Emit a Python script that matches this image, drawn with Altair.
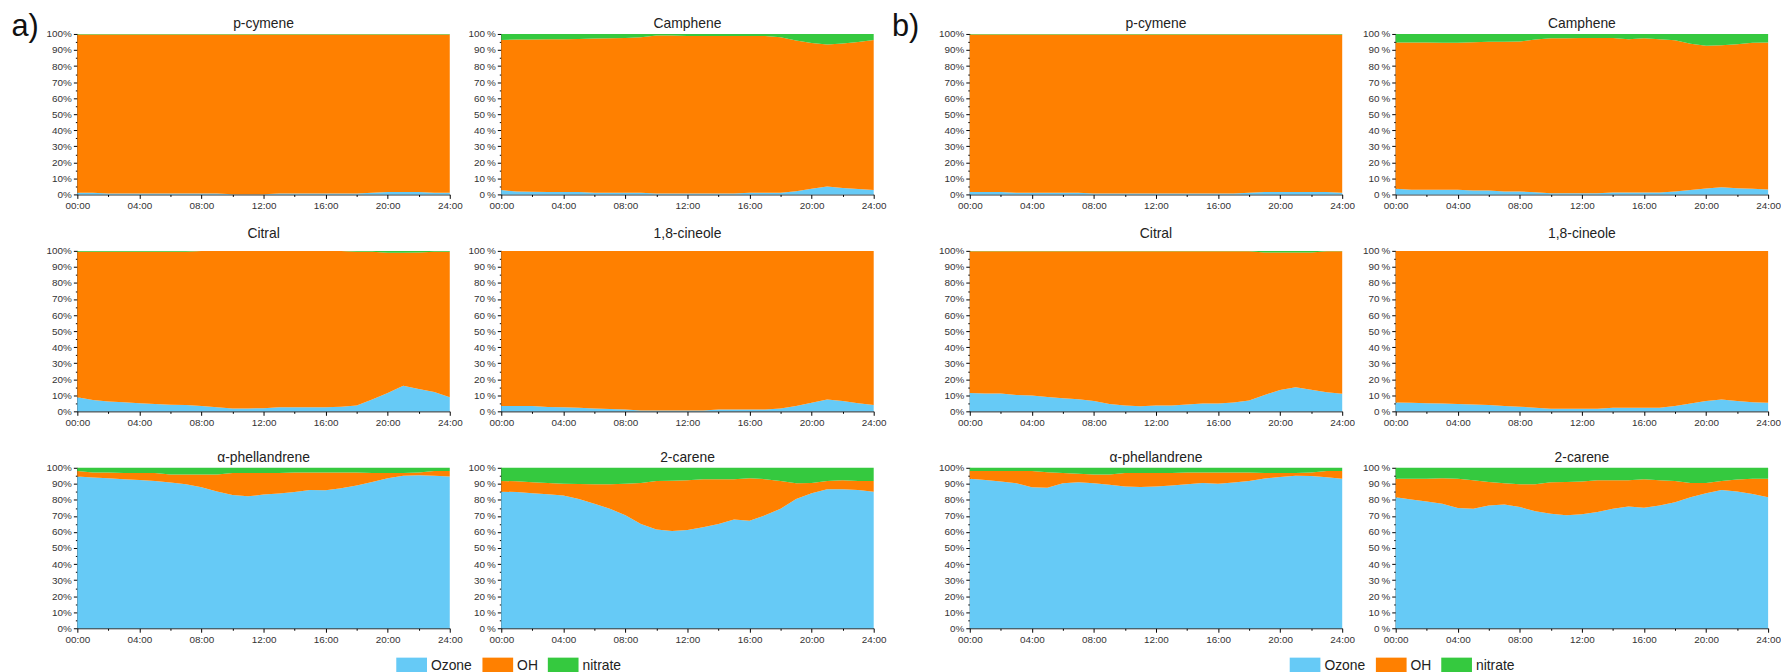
import altair as alt
import pandas as pd

HOURS = list(range(25))
SPECIES = ["Ozone", "OH", "nitrate"]
COLORS = ["#66CAF6", "#FF8000", "#35C93F"]
COMPOUNDS = ["p-cymene", "Camphene", "Citral", "1,8-cineole", "α-phellandrene", "2-carene"]

# ---------------- a) ----------------
a_pcymene_ozone = [1.0, 1.0, 0.5, 0.5, 0.5, 0.5, 0.5, 0.5, 0.5, 0.5, 0.1, 0.1, 0.1, 0.5, 0.5, 0.5, 0.5, 0.5, 0.5, 1.0, 1.5, 1.5, 1.5, 1.0, 1.0]
a_pcymene_oh = [98.7, 98.7, 99.2, 99.2, 99.2, 99.2, 99.2, 99.2, 99.2, 99.2, 99.6, 99.6, 99.6, 99.2, 99.2, 99.2, 99.2, 99.2, 99.2, 98.7, 98.2, 98.2, 98.2, 98.7, 98.7]
a_pcymene_nitrate = [0.3, 0.3, 0.3, 0.3, 0.3, 0.3, 0.3, 0.3, 0.3, 0.3, 0.3, 0.3, 0.3, 0.3, 0.3, 0.3, 0.3, 0.3, 0.3, 0.3, 0.3, 0.3, 0.3, 0.3, 0.3]

a_camphene_ozone = [2.7, 1.8, 1.6, 1.5, 1.5, 1.5, 1.0, 1.0, 1.0, 1.0, 0.6, 0.6, 0.6, 0.6, 0.6, 0.6, 1.0, 1.0, 1.0, 2.0, 3.5, 5.0, 4.0, 3.3, 2.7]
a_camphene_oh = [93.6, 94.7, 95.0, 95.2, 95.2, 95.3, 96.2, 96.3, 96.5, 97.0, 98.4, 98.4, 98.2, 98.2, 98.2, 98.2, 97.8, 97.8, 97.0, 94.0, 90.8, 88.4, 90.0, 91.7, 93.6]
a_camphene_nitrate = [3.7, 3.5, 3.4, 3.3, 3.3, 3.2, 2.8, 2.7, 2.5, 2.0, 1.0, 1.0, 1.2, 1.2, 1.2, 1.2, 1.2, 1.2, 2.0, 4.0, 5.7, 6.6, 6.0, 5.0, 3.7]

a_citral_ozone = [8.8, 7.0, 6.1, 5.7, 5.1, 4.5, 4.1, 3.9, 3.3, 2.5, 1.8, 1.8, 2.0, 2.5, 2.5, 2.5, 2.5, 2.9, 3.7, 7.4, 11.5, 16.0, 14.0, 12.0, 8.8]
a_citral_oh = [90.7, 92.5, 93.4, 93.8, 94.4, 95.0, 95.4, 95.6, 96.6, 97.4, 98.1, 98.1, 97.9, 97.4, 97.4, 97.4, 97.4, 97.0, 95.8, 92.1, 87.3, 82.8, 85.0, 87.5, 90.7]
a_citral_nitrate = [0.5, 0.5, 0.5, 0.5, 0.5, 0.5, 0.5, 0.5, 0.1, 0.1, 0.1, 0.1, 0.1, 0.1, 0.1, 0.1, 0.1, 0.1, 0.5, 0.5, 1.2, 1.2, 1.0, 0.5, 0.5]

a_cineole_ozone = [3.3, 3.3, 3.3, 2.7, 2.5, 2.3, 1.8, 1.5, 1.2, 0.6, 0.6, 0.6, 0.6, 0.6, 1.2, 1.2, 1.2, 1.2, 1.8, 3.3, 5.3, 7.4, 6.4, 5.1, 3.9]
a_cineole_oh = [96.6, 96.6, 96.6, 97.2, 97.4, 97.6, 98.1, 98.4, 98.7, 99.3, 99.3, 99.3, 99.3, 99.3, 98.7, 98.7, 98.7, 98.7, 98.1, 96.6, 94.6, 92.5, 93.5, 94.8, 96.0]
a_cineole_nitrate = [0.1, 0.1, 0.1, 0.1, 0.1, 0.1, 0.1, 0.1, 0.1, 0.1, 0.1, 0.1, 0.1, 0.1, 0.1, 0.1, 0.1, 0.1, 0.1, 0.1, 0.1, 0.1, 0.1, 0.1, 0.1]

a_phell_ozone = [94.5, 93.9, 93.5, 92.9, 92.4, 91.8, 90.8, 89.8, 87.8, 85.3, 83.1, 82.2, 83.3, 84.0, 84.9, 86.1, 86.0, 87.3, 89.0, 91.2, 93.5, 95.1, 95.3, 95.1, 94.5]
a_phell_oh = [3.5, 3.2, 3.5, 3.8, 4.3, 4.9, 5.1, 6.1, 8.1, 10.6, 13.6, 14.5, 13.4, 12.7, 12.2, 11.0, 11.1, 9.8, 8.1, 5.5, 3.2, 1.6, 1.8, 2.9, 3.5]
a_phell_nitrate = [2.0, 2.9, 3.0, 3.3, 3.3, 3.3, 4.1, 4.1, 4.1, 4.1, 3.3, 3.3, 3.3, 3.3, 2.9, 2.9, 2.9, 2.9, 2.9, 3.3, 3.3, 3.3, 2.9, 2.0, 2.0]

a_carene_ozone = [85.1, 84.9, 84.1, 83.5, 82.7, 80.6, 77.6, 74.5, 70.4, 64.9, 61.6, 60.6, 61.2, 62.9, 64.9, 67.8, 67.0, 70.4, 74.5, 80.6, 84.1, 86.7, 86.7, 86.1, 85.1]
a_carene_oh = [6.7, 6.7, 6.9, 7.0, 7.3, 9.3, 12.2, 15.3, 19.6, 25.7, 30.2, 31.4, 31.0, 30.0, 28.0, 25.1, 26.5, 22.5, 17.3, 9.8, 6.5, 5.1, 5.5, 5.7, 6.7]
a_carene_nitrate = [8.2, 8.4, 9.0, 9.5, 10.0, 10.1, 10.2, 10.2, 10.0, 9.4, 8.2, 8.0, 7.8, 7.1, 7.1, 7.1, 6.5, 7.1, 8.2, 9.6, 9.4, 8.2, 7.8, 8.2, 8.2]

# ---------------- b) ----------------
b_pcymene_ozone = [1.5, 1.5, 1.5, 1.0, 1.0, 1.0, 1.0, 1.0, 0.5, 0.5, 0.5, 0.5, 0.5, 0.5, 0.5, 0.5, 0.5, 0.5, 1.0, 1.5, 1.5, 1.5, 1.5, 1.5, 1.0]
b_pcymene_oh = [98.2, 98.2, 98.2, 98.7, 98.7, 98.7, 98.7, 98.7, 99.2, 99.2, 99.2, 99.2, 99.2, 99.2, 99.2, 99.2, 99.2, 99.2, 98.7, 98.2, 98.2, 98.2, 98.2, 98.2, 98.7]
b_pcymene_nitrate = [0.3, 0.3, 0.3, 0.3, 0.3, 0.3, 0.3, 0.3, 0.3, 0.3, 0.3, 0.3, 0.3, 0.3, 0.3, 0.3, 0.3, 0.3, 0.3, 0.3, 0.3, 0.3, 0.3, 0.3, 0.3]

b_camphene_ozone = [3.5, 2.9, 2.9, 2.9, 2.9, 2.5, 2.5, 1.8, 1.8, 1.4, 0.8, 0.8, 0.8, 0.8, 1.2, 1.2, 1.2, 1.2, 1.8, 2.7, 3.7, 4.5, 3.9, 3.5, 3.1]
b_camphene_oh = [91.2, 91.7, 91.7, 91.6, 91.6, 92.3, 92.6, 93.4, 93.5, 95.1, 96.5, 96.6, 96.7, 96.7, 96.3, 95.5, 96.1, 95.5, 94.3, 91.2, 88.9, 88.5, 89.7, 91.0, 91.6]
b_camphene_nitrate = [5.3, 5.4, 5.4, 5.5, 5.5, 5.2, 4.9, 4.8, 4.7, 3.5, 2.7, 2.6, 2.5, 2.5, 2.5, 3.3, 2.7, 3.3, 3.9, 6.1, 7.4, 7.0, 6.4, 5.5, 5.3]

b_citral_ozone = [11.5, 11.1, 11.1, 10.2, 9.8, 9.0, 8.2, 7.6, 6.4, 4.5, 3.7, 3.2, 3.7, 3.7, 4.3, 4.9, 4.9, 5.5, 6.8, 10.2, 13.3, 15.0, 13.5, 11.9, 10.9]
b_citral_oh = [88.2, 88.6, 88.6, 89.5, 89.9, 90.7, 91.5, 92.1, 93.3, 95.2, 96.0, 96.5, 96.0, 96.0, 95.4, 94.8, 94.8, 94.2, 92.9, 88.8, 85.7, 84.0, 85.5, 87.8, 88.8]
b_citral_nitrate = [0.3, 0.3, 0.3, 0.3, 0.3, 0.3, 0.3, 0.3, 0.3, 0.3, 0.3, 0.3, 0.3, 0.3, 0.3, 0.3, 0.3, 0.3, 0.3, 1.0, 1.0, 1.0, 1.0, 0.3, 0.3]

b_cineole_ozone = [5.5, 5.3, 5.1, 4.9, 4.6, 4.3, 3.9, 3.3, 2.9, 2.3, 1.6, 1.6, 1.6, 1.6, 2.3, 2.3, 2.3, 2.3, 3.3, 4.9, 6.4, 7.4, 6.4, 5.7, 5.3]
b_cineole_oh = [94.4, 94.6, 94.8, 95.0, 95.3, 95.6, 96.0, 96.6, 97.0, 97.6, 98.3, 98.3, 98.3, 98.3, 97.6, 97.6, 97.6, 97.6, 96.6, 95.0, 93.5, 92.5, 93.5, 94.2, 94.6]
b_cineole_nitrate = [0.1, 0.1, 0.1, 0.1, 0.1, 0.1, 0.1, 0.1, 0.1, 0.1, 0.1, 0.1, 0.1, 0.1, 0.1, 0.1, 0.1, 0.1, 0.1, 0.1, 0.1, 0.1, 0.1, 0.1, 0.1]

b_phell_ozone = [93.1, 92.4, 91.4, 90.4, 87.8, 87.6, 90.4, 91.0, 90.4, 89.4, 88.4, 88.0, 88.4, 89.0, 89.8, 90.6, 90.0, 90.8, 91.8, 93.3, 94.3, 95.1, 94.9, 94.1, 93.1]
b_phell_oh = [4.9, 5.6, 6.6, 7.6, 10.2, 9.7, 6.3, 5.3, 5.5, 6.5, 8.3, 8.7, 8.3, 7.7, 7.3, 6.5, 7.1, 6.3, 5.3, 3.4, 2.4, 1.6, 2.2, 3.9, 4.9]
b_phell_nitrate = [2.0, 2.0, 2.0, 2.0, 2.0, 2.7, 3.3, 3.7, 4.1, 4.1, 3.3, 3.3, 3.3, 3.3, 2.9, 2.9, 2.9, 2.9, 2.9, 3.3, 3.3, 3.3, 2.9, 2.0, 2.0]

b_carene_ozone = [81.6, 80.2, 79.0, 77.6, 75.0, 74.5, 76.5, 77.1, 75.5, 72.9, 71.4, 70.4, 71.0, 72.4, 74.5, 75.9, 75.1, 76.5, 78.6, 81.6, 84.1, 86.1, 85.3, 83.7, 81.6]
b_carene_oh = [11.5, 12.9, 14.1, 15.9, 18.1, 17.7, 14.7, 13.3, 14.3, 16.9, 19.6, 20.8, 20.4, 19.8, 17.7, 16.3, 17.7, 15.7, 13.2, 9.0, 6.5, 5.7, 7.4, 9.4, 11.5]
b_carene_nitrate = [6.9, 6.9, 6.9, 6.5, 6.9, 7.8, 8.8, 9.6, 10.2, 10.2, 9.0, 8.8, 8.6, 7.8, 7.8, 7.8, 7.2, 7.8, 8.2, 9.4, 9.4, 8.2, 7.3, 6.9, 6.9]

SERIES = {
    "a": {
        "p-cymene": (a_pcymene_ozone, a_pcymene_oh, a_pcymene_nitrate),
        "Camphene": (a_camphene_ozone, a_camphene_oh, a_camphene_nitrate),
        "Citral": (a_citral_ozone, a_citral_oh, a_citral_nitrate),
        "1,8-cineole": (a_cineole_ozone, a_cineole_oh, a_cineole_nitrate),
        "α-phellandrene": (a_phell_ozone, a_phell_oh, a_phell_nitrate),
        "2-carene": (a_carene_ozone, a_carene_oh, a_carene_nitrate),
    },
    "b": {
        "p-cymene": (b_pcymene_ozone, b_pcymene_oh, b_pcymene_nitrate),
        "Camphene": (b_camphene_ozone, b_camphene_oh, b_camphene_nitrate),
        "Citral": (b_citral_ozone, b_citral_oh, b_citral_nitrate),
        "1,8-cineole": (b_cineole_ozone, b_cineole_oh, b_cineole_nitrate),
        "α-phellandrene": (b_phell_ozone, b_phell_oh, b_phell_nitrate),
        "2-carene": (b_carene_ozone, b_carene_oh, b_carene_nitrate),
    },
}

FONT = "Liberation Sans"
PW, PH = 376, 162
ROW_TITLE_OFFSET = [-2, 5, -2]


def frame(group, comp):
    rows = []
    for k, (sp, vals) in enumerate(zip(SPECIES, SERIES[group][comp])):
        for h, v in zip(HOURS, vals):
            rows.append({"hour": h, "species": sp, "ord": k, "value": v})
    return pd.DataFrame(rows)


def panel(group, comp, col, row, legend_x, legend_y):
    d = frame(group, comp)
    pct_sep = "%" if col == 0 else "\u2009%"
    y_axis = alt.Axis(
        values=[i / 20 for i in range(21)],
        labelExpr=f"round(datum.value*100) % 10 === 0 ? round(datum.value*100) + '{pct_sep}' : ''",
        tickSize={"condition": {"test": "round(datum.value*100) % 10 === 0", "value": 4}, "value": 2},
        title=None, grid=False, labelOverlap=False,
    )
    x_axis = alt.Axis(
        values=list(range(0, 25, 2)),
        labelExpr="datum.value % 4 === 0 ? (datum.value < 10 ? '0' : '') + datum.value + ':00' : ''",
        tickSize={"condition": {"test": "datum.value % 4 === 0", "value": 4}, "value": 2},
        labelFlush=False, labelOverlap=False, title=None, grid=False,
    )
    return alt.Chart(d).mark_area(interpolate="linear", opacity=1).encode(
        x=alt.X("hour:Q", scale=alt.Scale(domain=[0, 24], nice=False, zero=False), axis=x_axis),
        y=alt.Y("value:Q", stack="normalize", scale=alt.Scale(domain=[0, 1], nice=False), axis=y_axis),
        color=alt.Color(
            "species:N",
            scale=alt.Scale(domain=SPECIES, range=COLORS),
            sort=SPECIES,
            legend=alt.Legend(
                title=None, orient="none", direction="horizontal",
                legendX=legend_x, legendY=legend_y,
                symbolType="M-1,-0.52H1V0.52H-1Z", symbolSize=961,
                symbolStrokeWidth=0, symbolOpacity=1,
                labelFont=FONT, labelFontSize=14, labelColor="#222",
                labelOffset=4, columnPadding=10,
            ),
        ),
        order=alt.Order("ord:Q"),
    ).properties(width=PW, height=PH, title=alt.TitleParams(comp, offset=ROW_TITLE_OFFSET[row]))


def group_chart(group, legend_x, legend_y, col_spacing):
    rows = []
    for r in range(3):
        c1 = COMPOUNDS[2 * r]
        c2 = COMPOUNDS[2 * r + 1]
        rows.append(alt.hconcat(panel(group, c1, 0, r, legend_x, legend_y),
                                panel(group, c2, 1, r, legend_x, legend_y), spacing=col_spacing))
    top = alt.vconcat(rows[0], rows[1], spacing=17)
    return alt.vconcat(top, rows[2], spacing=24)


def label_chart(text):
    return alt.Chart(pd.DataFrame({"t": [text]})).mark_text(
        font=FONT, fontSize=31, align="right", baseline="top", color="#111"
    ).encode(text="t:N", x=alt.value(28), y=alt.value(-22)).properties(width=28, height=30)


part_a = alt.hconcat(label_chart("a)"), group_chart("a", 322, 622, 5), spacing=7).resolve_scale(color="independent")
part_b = alt.hconcat(label_chart("b)"), group_chart("b", 323, 622, 7), spacing=19).resolve_scale(color="independent")

chart = alt.hconcat(part_a, part_b, spacing=5).resolve_scale(color="independent").properties(
    padding={"left": 3, "top": 0, "right": 0, "bottom": 0}
).configure_view(stroke=None).configure_axis(
    labelFont=FONT, labelFontSize=10, labelColor="#333", domainColor="#000",
    tickColor="#000", labelPadding=2, domainWidth=1,
).configure_title(
    font=FONT, fontSize=14, fontWeight="normal", color="#222", offset=-2,
)

chart.save("out.html", embed_options={"renderer": "svg", "actions": False})
